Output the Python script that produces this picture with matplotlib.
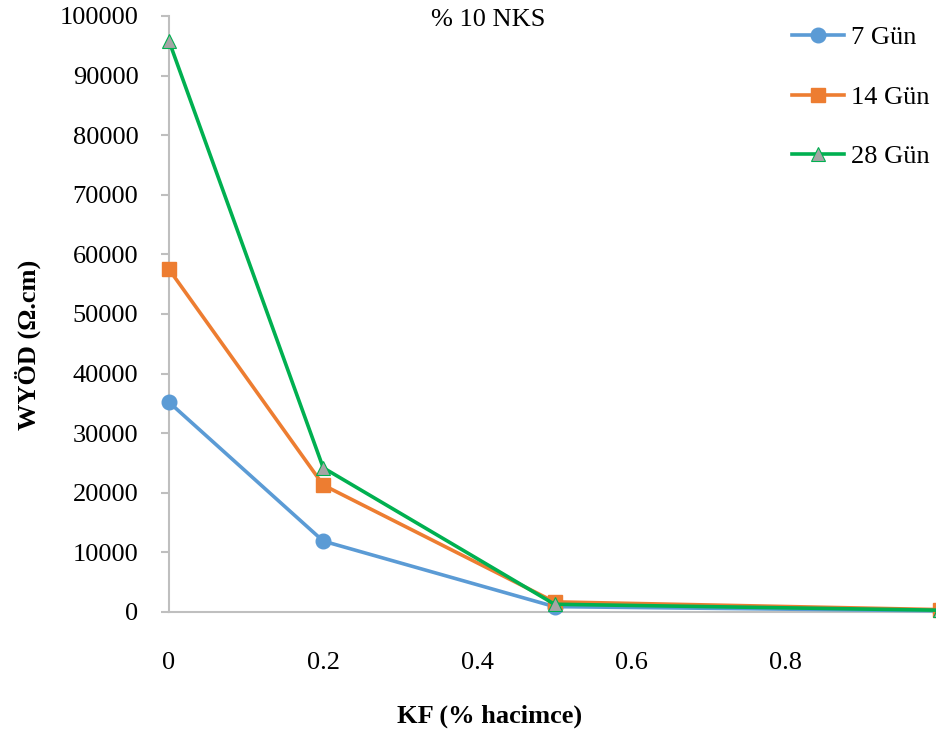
import matplotlib
matplotlib.use("Agg")
import matplotlib.pyplot as plt

# Volumetric fibre content (KF, % by volume)
kf = [0, 0.2, 0.5, 1.0]

# Surface electrical resistivity (Ω.cm) per curing age
gun7 = [35200, 11900, 900, 200]
gun14 = [57500, 21300, 1700, 400]
gun28 = [95800, 24200, 1300, 300]

series_labels = ["7 Gün", "14 Gün", "28 Gün"]
x_ticks = [0, 0.2, 0.4, 0.6, 0.8, 1]
x_tick_labels = ["0", "0.2", "0.4", "0.6", "0.8", "1"]
y_ticks = list(range(0, 100001, 10000))

plt.rcParams["font.family"] = ["Liberation Serif", "DejaVu Serif"]
FS = 19

fig = plt.figure(figsize=(9.37, 7.35), dpi=100)
ax = fig.add_axes([169 / 937, 1 - 612 / 735, (940 - 169) / 937, (612 - 16) / 735])

ax.plot(kf, gun7, color="#5B9BD5", lw=2.6, marker="o", ms=10.5,
        mfc="#5B9BD5", mec="#5B9BD5", label=series_labels[0], clip_on=False, zorder=3)
ax.plot(kf, gun14, color="#ED7D31", lw=2.6, marker="s", ms=10,
        mfc="#ED7D31", mec="#ED7D31", label=series_labels[1], clip_on=False, zorder=3)
ax.plot(kf, gun28, color="#00B050", lw=2.6, marker="^", ms=10.5,
        mfc="#A5A5A5", mec="#00B050", mew=0.8, label=series_labels[2], clip_on=False, zorder=4)

ax.set_xlim(0, 1)
ax.set_ylim(0, 100000)
ax.set_xticks(x_ticks)
ax.set_xticklabels(x_tick_labels)
ax.set_yticks(y_ticks)
ax.set_yticklabels([str(v) for v in y_ticks])

for s in ["top", "right"]:
    ax.spines[s].set_visible(False)
for s in ["left", "bottom"]:
    ax.spines[s].set_color("#BFBFBF")
    ax.spines[s].set_linewidth(1.5)

ax.tick_params(axis="y", direction="out", length=6, width=1.5, color="#BFBFBF",
               labelsize=FS, pad=16)
ax.tick_params(axis="x", length=0, labelsize=FS, pad=29)

ax.set_ylabel("WYÖD (Ω.cm)", fontsize=FS, fontweight="bold")
ax.yaxis.set_label_coords((41 - 169) / 771, 1 - (345 - 16) / 596)

fig.text(490 / 937, 1 - 716 / 735, "KF (% hacimce)", fontsize=FS, fontweight="bold",
         ha="center", va="center")

fig.text(488 / 937, 1 - 20 / 735, "% 10 NKS", fontsize=FS, ha="center", va="center")

leg = fig.legend(loc="upper left", bbox_to_anchor=(792 / 937, 1 - 26 / 735),
                 frameon=False, fontsize=FS, handlelength=1.97, handletextpad=0.27,
                 labelspacing=1.36, borderaxespad=0, borderpad=0)

fig.savefig("out.png", dpi=100)
